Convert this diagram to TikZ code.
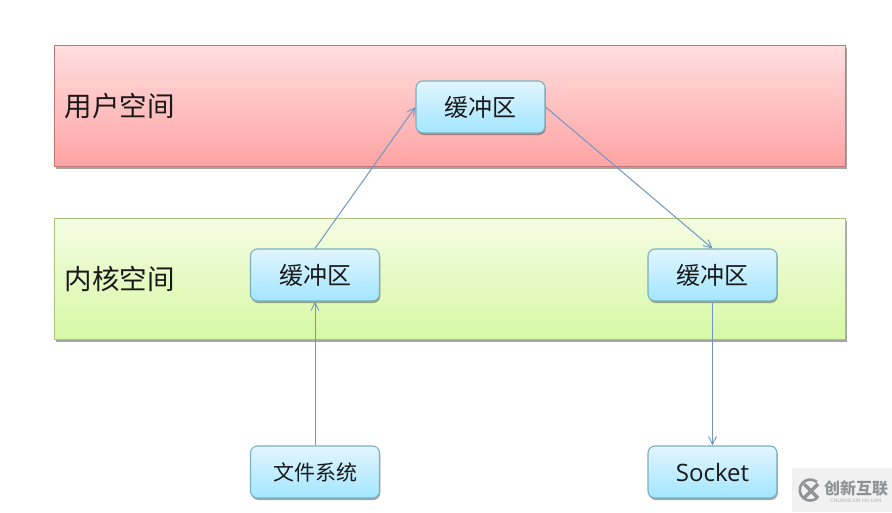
\documentclass[tikz,border=0pt]{standalone}
\usepackage{fontspec}
\setmainfont{Noto Sans CJK SC}
\newfontfamily\latinf{Open Sans}
\usetikzlibrary{arrows.meta,shadows,positioning}
\definecolor{redtop}{HTML}{FFDEDE}
\definecolor{redbot}{HTML}{FFA3A3}
\definecolor{redline}{HTML}{BE7676}
\definecolor{greentop}{HTML}{F5FCE2}
\definecolor{greenbot}{HTML}{D6F8A4}
\definecolor{greenline}{HTML}{A9C27A}
\definecolor{boxtop}{HTML}{E2F5FF}
\definecolor{boxbot}{HTML}{A2E6FF}
\definecolor{boxline}{HTML}{7AB0C0}
\definecolor{arrowc}{HTML}{7096C4}
\definecolor{wmbg}{HTML}{F1F1F1}
\definecolor{wmfg}{HTML}{8E9496}
\tikzset{
  x=1pt,y=-1pt,
  panel/.style={draw=#1,line width=0.8pt,minimum width=791pt,minimum height=121pt,inner sep=0pt,
    drop shadow={shadow xshift=1pt,shadow yshift=-2.5pt,opacity=0.5,fill=black!70}},
  bufbox/.style={rounded corners=7pt,draw=boxline,line width=1.1pt,top color=boxtop,bottom color=boxbot,
    minimum width=129pt,minimum height=52pt,inner sep=0pt,text=black!90,
    drop shadow={shadow xshift=0.8pt,shadow yshift=-2pt,opacity=0.5,fill=black!70}},
  flow/.style={draw=arrowc,line width=1pt,-{Straight Barb[length=8pt,width=8pt,line width=0.9pt]}},
  spacelabel/.style={anchor=west,inner sep=0pt,text=black!90,font=\fontsize{27.5}{30}\selectfont},
  buftext/.style={font=\fontsize{24}{28}\selectfont},
}
\begin{document}
\begin{tikzpicture}
\useasboundingbox (0,0) rectangle (892,512);
\fill[white] (0,0) rectangle (892,512);
\node[panel=redline,top color=redtop,bottom color=redbot] (user) at (450,106) {};
\node[panel=greenline,top color=greentop,bottom color=greenbot] (kernel) at (450,279) {};
\node[spacelabel] (userlabel) at (64.5,106) {用户空间};
\node[spacelabel] (kernellabel) at (64.5,279) {内核空间};
\node[bufbox,buftext] (ubuf) at (480.5,107) {缓冲区};
\node[bufbox,buftext] (kbufl) at (315,275) {缓冲区};
\node[bufbox,buftext] (kbufr) at (712.5,275) {缓冲区};
\node[bufbox,font=\fontsize{21}{24}\selectfont] (fs) at (315,472) {文件系统};
\node[bufbox,font=\latinf\fontsize{24}{28}\selectfont] (sock) at (712.5,472) {Socket};
\draw[flow] (fs.north) -- (kbufl.south);
\draw[flow] (kbufl.north) -- (ubuf.west);
\draw[flow] (ubuf.east) -- (kbufr.north);
\draw[flow] (kbufr.south) -- (sock.north);
% watermark
\fill[wmbg] (792,468) rectangle (892,512);
\draw[wmfg,line width=2.6pt] (817,482) arc[start angle=-50,end angle=-310,radius=10.5];
\draw[wmfg,line width=3.4pt] (804,484) -- (818,498);
\draw[wmfg,line width=3.4pt] (804,498) -- (818,484);
\node[inner sep=0pt,text=wmfg,font=\fontsize{16}{18}\selectfont\bfseries] (wmcn) at (856,488) {创新互联};
\node[inner sep=0pt,text=wmfg!80,font=\latinf\fontsize{5}{6}\selectfont] (wmen) at (856,500.5) {CHUANG XIN HU LIAN};
\end{tikzpicture}
\end{document}
